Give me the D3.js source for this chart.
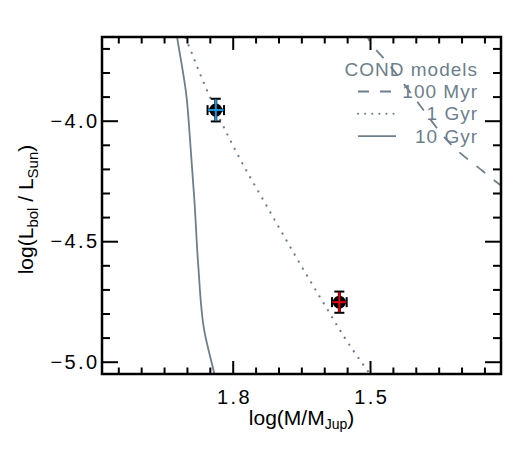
<!DOCTYPE html>
<html><head><meta charset="utf-8">
<script src="https://cdn.jsdelivr.net/npm/d3@7"></script>
<style>body{margin:0;background:#fff}svg{display:block;font-family:"Liberation Sans",Arial,Helvetica,sans-serif}</style>
</head><body><svg id="c" width="525" height="450"></svg>
<script>
// Model tracks (log M/MJup, log Lbol/Lsun)
const myr100 = [[1.512,-3.63],[1.5016,-3.6665],[1.46,-3.763],[1.3967,-3.9215],[1.3324,-4.0798],[1.2525,-4.2107],[1.216,-4.2657],[1.19,-4.30]];
const gyr1 = [[1.9097,-3.625],[1.8948,-3.6942],[1.8533,-3.8868],[1.7819,-4.1665],[1.7294,-4.3413],[1.6479,-4.6099],[1.6021,-4.7545],[1.5437,-4.9339],[1.5131,-5.0165],[1.4928,-5.0714]];
const gyr10 = [[1.9256,-3.6045],[1.921,-3.6595],[1.9005,-3.9074],[1.8948,-4.0384],[1.8835,-4.336],[1.8752,-4.603],[1.862,-4.872],[1.8409,-5.0438],[1.835,-5.092]];
// Objects
const objNames = ["A","B"];
const objLogM = [1.837, 1.567];
const objLogMErr = [0.018, 0.016];
const objLogL = [-3.956, -4.753];
const objLogLErr = [0.047, 0.044];
const objColors = ["#1c9be2","#e8000b"];
// Ticks
const xMajor = [1.8, 1.5];
const xMajorLabels = ["1.8","1.5"];
const yMajor = [-5.0, -4.5, -4.0];
const yMajorLabels = ["\u22125.0","\u22124.5","\u22124.0"];
const legendLabels = ["100 Myr","1 Gyr","10 Gyr"];

const L=102,R=501,T=37,B=374;
const svg=d3.select("#c");
const x=d3.scaleLinear().domain([2.0856,1.2138]).range([L,R]);
const y=d3.scaleLinear().domain([-3.6527,-5.051]).range([T,B]);
const slate="#6d7f8d";

svg.append("defs").append("clipPath").attr("id","cp").append("rect").attr("x",L).attr("y",T).attr("width",R-L).attr("height",B-T);
const line=d3.line().x(d=>x(d[0])).y(d=>y(d[1])).curve(d3.curveMonotoneY);
const lineX=d3.line().x(d=>x(d[0])).y(d=>y(d[1])).curve(d3.curveMonotoneX);
const g=svg.append("g").attr("clip-path","url(#cp)");
g.append("path").attr("d",line(gyr10)).attr("fill","none").attr("stroke",slate).attr("stroke-width",1.8);
g.append("path").attr("d",line(gyr1)).attr("fill","none").attr("stroke",slate).attr("stroke-width",2.2).attr("stroke-dasharray","0.1 8").attr("stroke-linecap","round");
g.append("path").attr("d",lineX(myr100)).attr("fill","none").attr("stroke",slate).attr("stroke-width",1.8).attr("stroke-dasharray","11 11");

// Legend
const lg=svg.append("g").attr("fill",slate).style("font-size","19px").style("letter-spacing","1px");
lg.append("text").attr("x",478).attr("y",76).attr("text-anchor","end").text("COND models");
const dashes=["11 11","0.1 7","none"];
legendLabels.forEach((t,i)=>{
  const yy=98+i*22.3;
  lg.append("text").attr("x",478).attr("y",yy).attr("text-anchor","end").text(t);
  lg.append("line").attr("x1",358).attr("x2",396).attr("y1",yy-6.5).attr("y2",yy-6.5).attr("stroke",slate)
    .attr("stroke-width",i==1?2:1.8).attr("stroke-dasharray",dashes[i]).attr("stroke-linecap",i==1?"round":"butt");
});

// Data points
objNames.forEach((n,i)=>{
  const cx=x(objLogM[i]), cy=y(objLogL[i]);
  const x1=x(objLogM[i]+objLogMErr[i]), x2=x(objLogM[i]-objLogMErr[i]);
  const y1=y(objLogL[i]+objLogLErr[i]), y2=y(objLogL[i]-objLogLErr[i]);
  const pg=svg.append("g");
  pg.append("line").attr("x1",x1).attr("x2",x2).attr("y1",cy).attr("y2",cy).attr("stroke","#000").attr("stroke-width",3);
  pg.append("line").attr("x1",cx).attr("x2",cx).attr("y1",y1).attr("y2",y2).attr("stroke","#000").attr("stroke-width",3);
  pg.append("line").attr("x1",cx-5).attr("x2",cx+5).attr("y1",y1).attr("y2",y1).attr("stroke","#000").attr("stroke-width",2);
  pg.append("line").attr("x1",cx-5).attr("x2",cx+5).attr("y1",y2).attr("y2",y2).attr("stroke","#000").attr("stroke-width",2);
  pg.append("line").attr("x1",x1).attr("x2",x1).attr("y1",cy-5).attr("y2",cy+5).attr("stroke","#000").attr("stroke-width",2);
  pg.append("line").attr("x1",x2).attr("x2",x2).attr("y1",cy-5).attr("y2",cy+5).attr("stroke","#000").attr("stroke-width",2);
  pg.append("circle").attr("cx",cx).attr("cy",cy).attr("r",6.5).attr("fill","#000");
  pg.append("line").attr("x1",x1+0.5).attr("x2",x2-0.5).attr("y1",cy).attr("y2",cy).attr("stroke",objColors[i]).attr("stroke-width",2);
  pg.append("line").attr("x1",cx).attr("x2",cx).attr("y1",y1+0.5).attr("y2",y2-0.5).attr("stroke",objColors[i]).attr("stroke-width",2);
});

// Axes
const xMinor=d3.range(1.25,2.06,0.05).map(v=>+v.toFixed(2)).filter(v=>!xMajor.some(m=>Math.abs(m-v)<1e-6));
const yMinor=d3.range(-5.0,-3.65,0.1).map(v=>+v.toFixed(1)).filter(v=>!yMajor.some(m=>Math.abs(m-v)<1e-6));
function ax(axis,tickVals,size,fmt){return axis.tickValues(tickVals).tickSize(size).tickFormat(fmt)}
const fs="20px";
svg.append("g").attr("transform",`translate(0,${B})`).call(ax(d3.axisBottom(x),xMinor,-6.5,""));
const bxM=svg.append("g").attr("transform",`translate(0,${B})`).call(ax(d3.axisBottom(x),xMajor,-13,(d,i)=>xMajorLabels[i]));
bxM.selectAll("text").attr("y",16).attr("dx","1.2").style("font-size",fs).style("letter-spacing","2.4px").attr("fill","#000");
svg.append("g").attr("transform",`translate(0,${T})`).call(ax(d3.axisTop(x),xMinor,-6.5,""));
svg.append("g").attr("transform",`translate(0,${T})`).call(ax(d3.axisTop(x),xMajor,-13,""));
svg.append("g").attr("transform",`translate(${L},0)`).call(ax(d3.axisLeft(y),yMinor,-8,""));
const lyM=svg.append("g").attr("transform",`translate(${L},0)`).call(ax(d3.axisLeft(y),yMajor,-16,(d,i)=>yMajorLabels[i]));
lyM.selectAll("text").attr("x",-2.5).style("font-size",fs).style("letter-spacing","2.4px").attr("fill","#000");
svg.append("g").attr("transform",`translate(${R},0)`).call(ax(d3.axisRight(y),yMinor,-8,""));
svg.append("g").attr("transform",`translate(${R},0)`).call(ax(d3.axisRight(y),yMajor,-16,""));
svg.selectAll(".domain").remove();
svg.selectAll(".tick line").attr("stroke","#000").attr("stroke-width",2);
svg.append("rect").attr("x",L).attr("y",T).attr("width",R-L).attr("height",B-T).attr("fill","none").attr("stroke","#000").attr("stroke-width",2.5);

// Axis titles
const xt=svg.append("text").attr("x",(L+R)/2).attr("y",425).attr("text-anchor","middle").style("font-size","21px");
xt.append("tspan").text("log(M/M");
xt.append("tspan").attr("baseline-shift","-30%").style("font-size","14px").text("Jup");
xt.append("tspan").text(")");
const yt=svg.append("text").attr("transform",`translate(33,${(T+B)/2+4}) rotate(-90)`).attr("text-anchor","middle").style("font-size","21px");
yt.append("tspan").text("log(L");
yt.append("tspan").attr("baseline-shift","-30%").style("font-size","15px").text("bol");
yt.append("tspan").text(" / L");
yt.append("tspan").attr("baseline-shift","-30%").style("font-size","15px").text("Sun");
yt.append("tspan").text(")");
</script></body></html>
